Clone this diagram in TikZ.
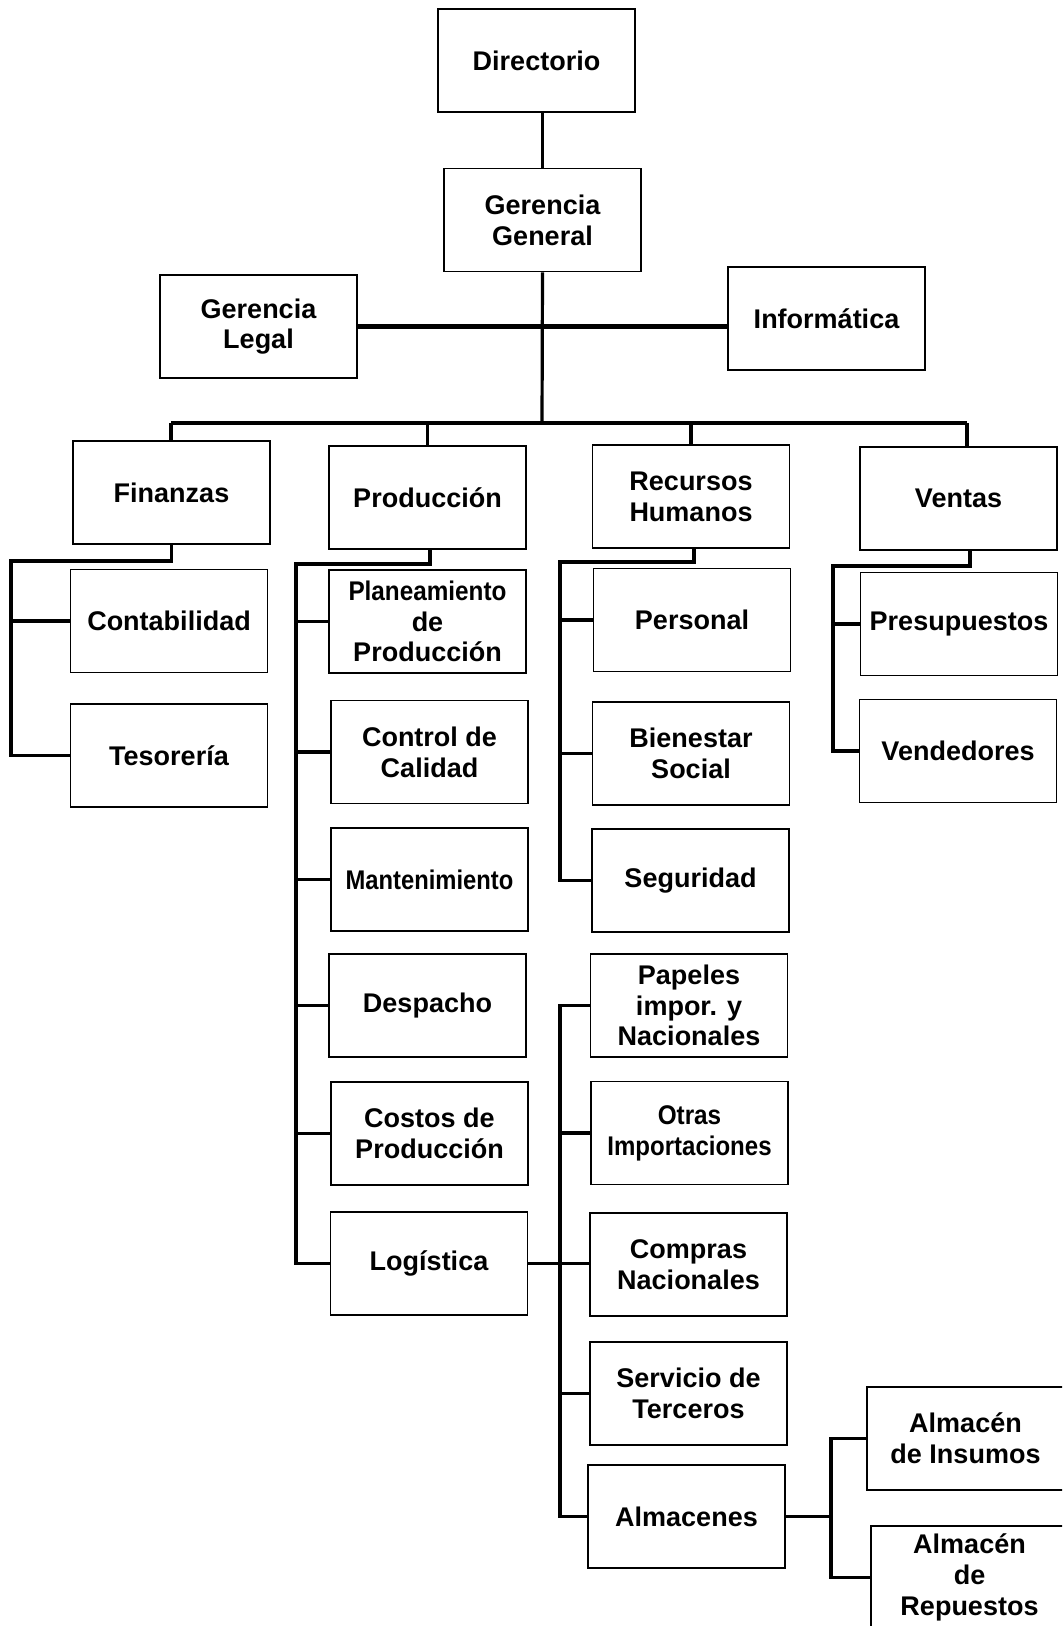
\documentclass[tikz,border=0pt]{standalone}
\usepackage{fontspec}
\setmainfont{Liberation Sans}
\usepackage{graphicx}
% horizontally condensed word
\newcommand{\squeeze}[2]{\scalebox{#1}[1]{#2}}

\begin{document}
\begin{tikzpicture}[x=0.5pt,y=-0.5pt,
  unit/.style={draw=black, line width=0.9pt, minimum width=98.5pt,
    minimum height=51.5pt, inner sep=0pt, align=center,
    font=\fontsize{13.5}{15.4}\selectfont\bfseries},
  link/.style={line width=1.6pt},
  spine/.style={line width=2.3pt}]

\useasboundingbox (0,0) rectangle (1062,1626);
\clip (0,0) rectangle (1062,1626);

% ---- top management ----
\node[unit] (dir)  at (536.5,60.5)  {Directorio};
\node[unit] (gg)   at (542.5,220)   {Gerencia\\General};
\node[unit] (gl)   at (258.5,326.5) {Gerencia\\Legal};
\node[unit] (inf)  at (826.5,318.5) {Informática};

% ---- departments ----
\node[unit] (fin)  at (171.5,492.5) {Finanzas};
\node[unit] (prod) at (427.5,497.5) {Producción};
\node[unit] (rrhh) at (691,496.5)   {Recursos\\Humanos};
\node[unit] (ven)  at (958.5,498.5) {Ventas};

% ---- Finanzas ----
\node[unit] (cont) at (169,621)   {Contabilidad};
\node[unit] (tes)  at (169,755.5) {Tesorería};

% ---- Producción ----
\node[unit] (plan) at (427.5,621.5) {\squeeze{0.9}{Planeamiento}\\de\\Producción};
\node[unit] (ctrl) at (429.5,752)   {Control de\\Calidad};
\node[unit] (mant) at (429.5,879.5) {\squeeze{0.88}{Mantenimiento}};
\node[unit] (desp) at (427.5,1005.5) {Despacho};
\node[unit] (cost) at (429.5,1133.5) {Costos de\\Producción};
\node[unit] (log)  at (429,1263.5)  {Logística};

% ---- Recursos Humanos ----
\node[unit] (pers) at (692,620)    {Personal};
\node[unit] (bien) at (691,753.5)  {Bienestar\\Social};
\node[unit] (seg)  at (690.5,880.5) {Seguridad};

% ---- Logística ----
\node[unit] (pap)  at (689,1005.5)  {Papeles\\impor. y\\Nacionales};
\node[unit] (otr)  at (689.5,1133)  {\squeeze{0.9}{Otras}\\\squeeze{0.89}{Importaciones}};
\node[unit] (comp) at (688.5,1264.5) {Compras\\Nacionales};
\node[unit] (serv) at (688.5,1393.5) {Servicio de\\Terceros};
\node[unit] (alm)  at (686.5,1516.5) {Almacenes};
\node[unit] (ains) at (965.5,1438.5) {Almacén\\de Insumos};
\node[unit] (arep) at (969.5,1577.5) {Almacén\\de\\Repuestos};

% ---- Ventas ----
\node[unit] (pres) at (959,624) {Presupuestos};
\node[unit] (vend) at (958,751) {Vendedores};

% ---- connectors: top ----
\coordinate (hub)  at (542,423);
\coordinate (busL) at (171,423);
\coordinate (busR) at (967,423);
\draw[link] (gg.north) -- (gg.north |- dir.south);
\draw[link] (gg.south) -- (hub);
\draw[spine] (gl.east) -- (gl.east -| inf.west);
\draw[spine] (busL) -- (busR);
\draw[link] (busL) -- (busL |- fin.north);
\draw[link] (prod.north) -- (prod.north |- busL);
\draw[link] (rrhh.north) -- (rrhh.north |- busL);
\draw[link] (busR) -- (busR |- ven.north);

% ---- connectors: Finanzas ----
\coordinate (finbus) at (11,561);
\draw[link] (fin.south) |- (finbus) |- (tes.west);
\draw[link] (cont.west) -- (cont.west -| finbus);

% ---- connectors: Producción ----
\coordinate (proddrop) at (430,564);
\coordinate (prodbus) at (296,564);
\draw[link] (proddrop |- prod.south) -- (proddrop) -- (prodbus) |- (log.west);
\foreach \n in {plan,ctrl,mant,desp,cost}
  \draw[link] (\n.west) -- (\n.west -| prodbus);

% ---- connectors: Recursos Humanos ----
\coordinate (rhdrop) at (694,562);
\coordinate (rhbus) at (560,562);
\draw[link] (rhdrop |- rrhh.south) -- (rhdrop) -- (rhbus) |- (seg.west);
\foreach \n in {pers,bien}
  \draw[link] (\n.west) -- (\n.west -| rhbus);

% ---- connectors: Ventas ----
\coordinate (vendrop) at (970,566);
\coordinate (venbus) at (833,566);
\draw[link] (vendrop |- ven.south) -- (vendrop) -- (venbus) |- (vend.west);
\draw[link] (pres.west) -- (pres.west -| venbus);

% ---- connectors: Logística ----
\coordinate (logbus) at (560,1003);
\draw[link] (pap.west) -- (pap.west -| logbus) |- (alm.west);
\draw[link] (log.east) -- (log.east -| comp.west);
\foreach \n in {otr,serv}
  \draw[link] (\n.west) -- (\n.west -| logbus);

% ---- connectors: Almacenes ----
\coordinate (almbus) at (831,1511);
\draw[link] (alm.east) -- (alm.east -| almbus);
\draw[link] (ains.west) -- (ains.west -| almbus) -- (almbus |- arep.west) -- (arep.west);

\end{tikzpicture}
\end{document}
